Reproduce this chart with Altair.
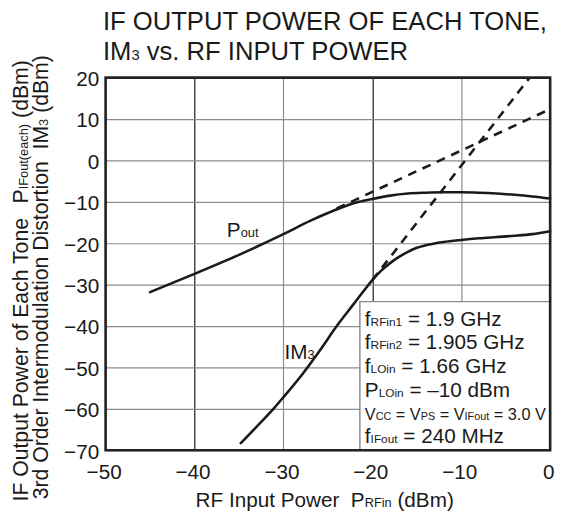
import altair as alt
import pandas as pd

# ---------------- data ----------------
X_DOMAIN = [-50, 0]
Y_DOMAIN = [-70, 20]
X_TICKS = [-50, -40, -30, -20, -10, 0]
Y_TICKS = [-70, -60, -50, -40, -30, -20, -10, 0, 10, 20]

pout_x = [-45, -40, -35, -30, -27, -25, -23, -21.5, -20, -18, -16, -14, -12, -10, -8, -6, -4, -2, 0]
pout_y = [-31.8, -27.4, -22.8, -17.8, -14.6, -12.7, -11.0, -10.0, -9.3, -8.5, -8.0, -7.8, -7.7, -7.7, -7.8, -8.0, -8.3, -8.7, -9.2]

im3_x = [-34.8, -33, -31, -30, -28, -26, -24, -22, -21, -20, -19, -18, -17, -16, -15, -14, -12, -10, -8, -6, -4, -2, 0]
im3_y = [-68.3, -64.3, -59.7, -57.2, -52.0, -46.2, -40.0, -34.4, -31.6, -28.9, -26.6, -24.8, -23.3, -22.1, -21.1, -20.5, -19.7, -19.2, -18.8, -18.5, -18.2, -17.8, -17.1]

pout_ext_x = [-24.0, 0.0]
pout_ext_y = [-11.6, 12.4]
im3_ext_x = [-20.0, -2.3]
im3_ext_y = [-28.9, 20.0]

box_x = [-21.4, 0]
box_y = [-70, -34.1]

# ---------------- geometry helpers ----------------
W, H = 451, 378
PXX = W / (X_DOMAIN[1] - X_DOMAIN[0])
PXY = H / (Y_DOMAIN[1] - Y_DOMAIN[0])

ARIAL = {
    "A": 667, "B": 667, "C": 722, "D": 722, "E": 667, "F": 611, "G": 778, "H": 722,
    "I": 278, "L": 556, "M": 833, "N": 722, "O": 778, "P": 667, "R": 722, "S": 667,
    "T": 611, "U": 722, "V": 667, "W": 944,
    "a": 556, "b": 556, "c": 500, "d": 556, "e": 556, "f": 278, "g": 556, "h": 556,
    "i": 222, "l": 222, "m": 833, "n": 556, "o": 556, "p": 556, "r": 333, "s": 500,
    "t": 278, "u": 556, "v": 500, "w": 722, "z": 500,
    " ": 278, ".": 278, ",": 278, "=": 584, "(": 333, ")": 333, "\u2212": 584, "\u2013": 556,
}


def text_width(s, size):
    return sum(ARIAL.get(c, 556) for c in s) / 1000.0 * size


def run(segments, x0, y0, vertical=False):
    rows = []
    off = 0.0
    for text, size in segments:
        lead = len(text) - len(text.lstrip(" "))
        shown = text.strip(" ")
        a = off + text_width(" " * lead, size)
        if vertical:
            rows.append(dict(x=x0, y=y0 + a / PXY, text=shown, size=size, angle=270))
        else:
            rows.append(dict(x=x0 + a / PXX, y=y0, text=shown, size=size, angle=0))
        off += text_width(text, size)
    return rows


M, S = 21, 13
T, TS = 26, 15
L, LS = 21, 12
V, VS = 16.5, 11

rows = []
# title
rows += run([("IF OUTPUT POWER OF EACH TONE,", T)], -50.3, 31.5)
rows += run([("IM", T), ("3", TS), (" vs. RF INPUT POWER", T)], -50.3, 24.36)
# curve labels
rows += run([("P", M), ("out", S)], -36.36, -18.5)
rows += run([("IM", M), ("3", S)], -29.87, -47.86)
# conditions box
lx = -20.84
rows += run([("f", L), ("RFin1", LS), (" = 1.9 GHz", L)], lx, -40.07)
rows += run([("f", L), ("RFin2", LS), (" = 1.905 GHz", L)], lx, -45.64)
rows += run([("f", L), ("LOin", LS), (" = 1.66 GHz", L)], lx, -51.43)
rows += run([("P", L), ("LOin", LS), (" = \u201310 dBm", L)], lx, -57.14)
rows += run([("V", V), ("CC", VS), (" = V", V), ("PS", VS), (" = V", V), ("IFout", VS), (" = 3.0 V", V)], lx, -62.74)
rows += run([("f", L), ("IFout", LS), (" = 240 MHz", L)], lx, -68.33)
# axis titles
rows += run([("RF Input Power", M), ("  P", M), ("RFin", S), (" (dBm)", M)], -39.88, -83.74)
YT = 21.5
rows += run([("IF Output Power of Each Tone", YT), ("  P", YT), ("IFout(each)", S), (" (dBm)", YT)],
            -58.73, -82.38, vertical=True)
rows += run([("3rd Order Intermodulation Distortion", YT), ("  IM", YT), ("3", S), (" (dBm)", YT)],
            -56.51, -81.83, vertical=True)

texts = pd.DataFrame(rows)

curves = pd.DataFrame(
    [dict(x=a, y=b, s="Pout") for a, b in zip(pout_x, pout_y)]
    + [dict(x=a, y=b, s="IM3") for a, b in zip(im3_x, im3_y)]
)
ext = pd.DataFrame(
    [dict(x=a, y=b, s="Pout") for a, b in zip(pout_ext_x, pout_ext_y)]
    + [dict(x=a, y=b, s="IM3") for a, b in zip(im3_ext_x, im3_ext_y)]
)
box = pd.DataFrame([dict(x=box_x[0], x2=box_x[1], y=box_y[0], y2=box_y[1])])
frame = pd.DataFrame([dict(x=X_DOMAIN[0], x2=X_DOMAIN[1], y=Y_DOMAIN[0], y2=Y_DOMAIN[1])])

FONT = "Liberation Sans"
INK = "#1a1a1a"

xscale = alt.Scale(domain=X_DOMAIN, nice=False, zero=False)
yscale = alt.Scale(domain=Y_DOMAIN, nice=False, zero=False)

xaxis = alt.Axis(
    values=X_TICKS, grid=True,
    gridColor={"condition": {"test": "datum.value == -40 || datum.value == -20", "value": "#1a1a1a"},
               "value": "#8c8c8c"},
    gridWidth=1.2, domain=False, ticks=False, tickSize=0,
    labelFont=FONT, labelFontSize=21, labelColor=INK, labelPadding=12,
    labelFlush=False, labelOverlap=False, labelOffset=-2, title=None,
)
yaxis = alt.Axis(
    values=Y_TICKS, grid=True, gridColor="#8c8c8c", gridWidth=1.2,
    domain=False, ticks=False, tickSize=0,
    labelFont=FONT, labelFontSize=21, labelColor=INK, labelPadding=7,
    labelFlush=False, labelOverlap=False, labelOffset=2, title=None,
)

base_x = alt.X("x:Q", scale=xscale, axis=xaxis)
base_y = alt.Y("y:Q", scale=yscale, axis=yaxis)

box_layer = alt.Chart(box).mark_rect(fill="white", stroke="#8c8c8c", strokeWidth=1.5).encode(
    x=base_x, x2="x2:Q", y=base_y, y2="y2:Q"
)

curve_layer = alt.Chart(curves).mark_line(
    color=INK, strokeWidth=2.6, interpolate="monotone", strokeCap="round"
).encode(x=base_x, y=base_y, detail="s:N")

ext_layer = alt.Chart(ext).mark_line(
    color=INK, strokeWidth=2.6, strokeDash=[9, 7]
).encode(x=base_x, y=base_y, detail="s:N")

text_layer = alt.Chart(texts).mark_text(
    align="left", baseline="alphabetic", font=FONT, color=INK
).encode(
    x=base_x, y=base_y, text="text:N",
    size=alt.Size("size:Q", scale=None),
    angle=alt.Angle("angle:Q", scale=None),
)

frame_layer = alt.Chart(frame).mark_rect(filled=False, stroke="#222222", strokeWidth=2.6).encode(
    x=base_x, x2="x2:Q", y=base_y, y2="y2:Q"
)

chart = alt.layer(box_layer, curve_layer, ext_layer, text_layer, frame_layer).properties(
    width=W, height=H,
    padding={"left": 99, "top": 67, "right": 9, "bottom": 60},
    autosize=alt.AutoSizeParams(type="none"),
    background="white",
).configure_view(stroke=None)

chart.save("out.html", embed_options={"renderer": "svg", "actions": False})
